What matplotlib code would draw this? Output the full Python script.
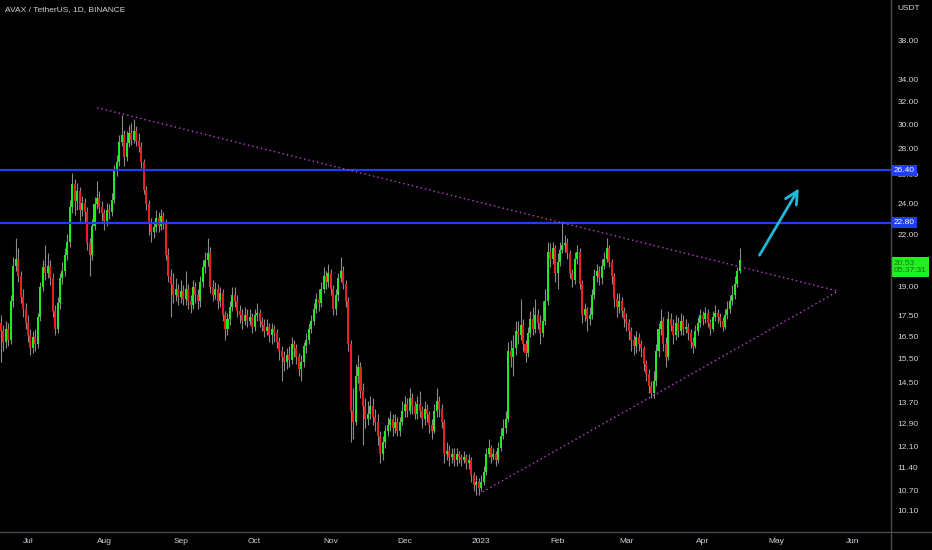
import datetime as dt
import matplotlib
matplotlib.use("Agg")
import matplotlib.pyplot as plt
import matplotlib.dates as mdates
from matplotlib.lines import Line2D

plt.rcParams['font.family'] = ['Liberation Sans', 'DejaVu Sans']

# --- données (AVAX / USDT, 1D) ---
first_day = dt.date(2022, 6, 20)
first_open = 17.2

closes = [
    16.8, 16.3, 16.9, 16.4, 18.3, 20.2, 20.6, 19.6, 18.5, 17.9,
    17.2, 16.6, 16.0, 16.5, 16.2, 17.5, 19.0, 20.1, 19.8, 20.2,
    19.5, 17.8, 16.9, 18.2, 19.5, 19.9, 20.8, 21.6, 23.8, 25.4,
    24.2, 24.9, 23.6, 24.1, 23.5, 21.5, 20.8, 22.6, 24.0, 24.4,
    23.8, 23.4, 22.9, 23.6, 23.5, 24.3, 26.4, 27.0, 28.6, 29.2,
    27.4, 28.5, 29.3, 28.8, 29.5, 28.7, 28.2, 27.0, 25.0, 24.0,
    22.8, 22.2, 22.5, 23.1, 22.6, 23.2, 22.7, 20.8, 19.6, 19.2,
    18.6, 18.9, 18.5, 18.8, 18.4, 18.9, 18.3, 18.1, 19.0, 18.6,
    18.3, 19.3, 20.1, 20.5, 20.9, 19.0, 18.6, 18.9, 18.3, 18.7,
    17.6, 16.9, 17.4, 18.0, 18.6, 18.3, 17.8, 17.6, 17.3, 17.6,
    17.3, 17.5, 17.0, 17.6, 17.7, 17.3, 17.1, 16.8, 17.0, 16.6,
    16.9, 16.7, 16.3, 15.9, 15.6, 15.4, 15.7, 15.5, 16.2, 16.0,
    15.6, 15.1, 15.4, 16.1, 16.4, 16.9, 17.3, 17.9, 18.4, 18.2,
    18.9, 19.6, 19.3, 19.8, 18.9, 17.9, 18.6, 19.5, 19.9, 19.2,
    18.3, 16.2, 13.4, 13.0, 14.8, 15.2, 14.2, 13.6, 13.1, 13.3,
    13.6, 13.2, 13.0, 12.5, 11.9, 12.3, 12.7, 12.9, 13.1, 12.8,
    13.0, 12.7, 13.0, 13.4, 13.7, 13.4, 13.9, 13.6, 13.3, 13.7,
    13.4, 13.1, 13.5, 13.3, 12.9, 12.7, 13.4, 13.8, 13.5, 13.0,
    11.9, 12.0, 11.8, 11.9, 11.7, 11.9, 11.8, 11.7, 11.8, 11.6,
    11.7, 11.2, 10.9, 11.0, 10.8, 11.0, 11.3, 11.9, 12.1, 11.8,
    11.9, 11.7, 12.1, 12.5, 12.8, 13.1, 15.9, 15.6, 16.0, 16.8,
    16.6, 17.1, 16.2, 15.8, 16.7, 17.4, 16.9, 17.6, 17.2, 16.7,
    17.3, 18.3, 21.0, 20.6, 21.2, 19.8, 20.4, 21.1, 21.4, 21.5,
    20.9, 19.8, 19.4, 20.6, 21.0, 19.2, 17.6, 17.9, 17.4, 17.6,
    18.6, 19.6, 19.9, 19.5, 20.2, 20.6, 21.2, 20.4, 19.6, 18.4,
    18.0, 18.3, 17.8, 17.4, 17.2, 16.8, 16.4, 16.1, 16.5, 16.2,
    16.0, 15.3, 14.9, 14.4, 14.1, 14.6, 15.9, 16.9, 17.3, 16.2,
    15.6, 17.4, 17.1, 16.6, 17.2, 16.8, 17.3, 16.9, 17.0, 16.7,
    16.3, 16.1, 16.8, 17.2, 17.6, 17.4, 17.7, 17.2, 16.9, 17.5,
    17.7, 17.5, 17.3, 17.0, 17.6, 17.9, 18.3, 18.6, 19.2, 19.9,
    20.53,
]

highs = [
    17.6, 17.1, 17.3, 17.2, 18.6, 20.7, 21.8, 21.2, 19.9, 18.9,
    18.2, 17.6, 16.9, 16.8, 16.9, 17.7, 19.3, 20.5, 21.4, 20.9,
    20.5, 19.8, 18.1, 18.5, 19.8, 20.4, 21.2, 22.1, 24.3, 26.2,
    25.8, 25.5, 25.2, 24.6, 24.4, 23.8, 21.8, 23.0, 24.5, 25.6,
    24.9, 24.2, 23.7, 24.1, 24.0, 24.8, 26.8, 27.6, 29.2, 30.9,
    29.6, 29.5, 30.0, 30.2, 30.5, 29.9, 29.3, 28.6, 27.3, 25.3,
    24.3, 23.1, 22.9, 23.6, 23.5, 23.7, 23.5, 23.0, 21.2, 20.0,
    19.8, 19.5, 19.2, 19.4, 19.1, 19.9, 19.2, 18.6, 19.4, 19.3,
    18.9, 19.6, 20.5, 21.0, 21.8, 21.3, 19.4, 19.3, 19.2, 19.0,
    18.9, 17.8, 17.7, 18.3, 19.0, 19.0, 18.6, 18.1, 17.9, 18.0,
    17.9, 17.9, 17.7, 17.9, 18.2, 17.9, 17.5, 17.4, 17.4, 17.2,
    17.2, 17.1, 16.9, 16.5, 16.1, 15.9, 16.0, 16.1, 16.5, 16.4,
    16.2, 15.8, 15.7, 16.3, 16.7, 17.2, 17.6, 18.2, 18.7, 18.9,
    19.3, 20.1, 19.9, 20.3, 20.0, 19.1, 18.9, 19.8, 20.7, 20.2,
    19.4, 18.5, 16.4, 14.3, 15.3, 15.7, 15.4, 14.5, 13.9, 13.8,
    14.0, 13.9, 13.5, 13.3, 12.7, 12.5, 12.9, 13.2, 13.4, 13.3,
    13.3, 13.2, 13.2, 13.8, 14.0, 13.9, 14.3, 14.1, 13.8, 14.0,
    14.2, 13.6, 13.8, 13.7, 13.4, 13.1, 13.7, 14.3, 14.0, 13.7,
    13.1, 12.3, 12.2, 12.1, 12.1, 12.1, 12.0, 11.9, 12.0, 11.9,
    11.9, 11.8, 11.3, 11.2, 11.1, 11.2, 11.5, 12.1, 12.4, 12.2,
    12.1, 12.0, 12.3, 12.8, 13.1, 13.4, 16.3, 16.4, 16.6, 17.3,
    17.3, 18.4, 17.4, 16.4, 17.0, 17.8, 18.0, 18.4, 17.9, 17.6,
    18.3, 18.9, 21.6, 21.5, 21.6, 21.4, 20.9, 21.6, 22.9, 22.0,
    21.8, 21.1, 20.0, 21.0, 21.4, 21.2, 19.4, 18.2, 18.0, 18.0,
    18.9, 20.0, 20.3, 20.2, 20.6, 21.0, 21.8, 21.4, 20.6, 19.8,
    18.7, 18.7, 18.5, 18.0, 17.7, 17.4, 17.0, 16.6, 16.8, 16.7,
    16.4, 16.1, 15.5, 15.1, 14.6, 15.0, 16.2, 17.2, 17.9, 17.5,
    16.5, 17.8, 17.7, 17.4, 17.6, 17.5, 17.7, 17.6, 17.4, 17.2,
    16.9, 16.5, 17.1, 17.5, 17.9, 17.8, 18.0, 17.9, 17.4, 17.8,
    18.1, 17.9, 17.7, 17.5, 17.9, 18.3, 18.6, 19.1, 19.6, 20.1,
    21.2,
]

lows = [
    15.4, 15.9, 16.0, 16.1, 16.2, 18.0, 19.9, 19.3, 18.2, 17.5,
    16.9, 16.3, 15.7, 15.8, 15.9, 16.0, 17.3, 18.8, 19.4, 19.5,
    19.1, 17.5, 16.6, 16.7, 17.9, 19.2, 19.6, 20.5, 21.3, 23.4,
    23.3, 23.6, 22.9, 23.2, 22.8, 21.1, 19.6, 20.5, 22.3, 23.7,
    23.4, 22.9, 22.3, 22.6, 23.0, 23.2, 24.1, 26.0, 26.7, 28.3,
    26.7, 27.1, 28.2, 28.4, 28.5, 28.3, 27.8, 26.6, 24.7, 23.6,
    22.0, 21.6, 21.8, 22.2, 22.2, 22.3, 22.4, 20.5, 19.3, 17.5,
    18.2, 18.3, 18.1, 18.2, 18.1, 18.1, 17.9, 17.7, 17.9, 18.2,
    17.9, 18.0, 19.0, 19.8, 20.2, 18.7, 18.3, 18.4, 17.9, 18.0,
    17.3, 16.4, 16.6, 17.1, 17.8, 18.0, 17.5, 17.2, 16.9, 17.1,
    17.0, 17.1, 16.7, 16.8, 17.3, 17.0, 16.8, 16.5, 16.6, 16.3,
    16.2, 16.3, 16.0, 15.5, 14.6, 15.0, 15.1, 15.2, 15.3, 15.6,
    15.3, 14.8, 14.6, 15.2, 15.8, 16.2, 16.7, 17.1, 17.7, 17.8,
    18.0, 18.7, 18.9, 19.0, 18.6, 17.6, 17.6, 18.3, 19.3, 18.9,
    18.0, 15.9, 12.3, 12.4, 12.9, 14.5, 13.9, 12.2, 12.8, 12.9,
    13.1, 12.9, 12.7, 12.2, 11.6, 11.7, 12.1, 12.5, 12.7, 12.5,
    12.6, 12.5, 12.5, 12.9, 13.2, 13.2, 13.3, 13.3, 13.1, 13.1,
    13.2, 12.8, 12.9, 13.0, 12.6, 12.4, 12.6, 13.2, 13.2, 12.8,
    11.6, 11.7, 11.5, 11.6, 11.5, 11.5, 11.6, 11.5, 11.6, 11.4,
    11.4, 11.0, 10.7, 10.6, 10.6, 10.7, 10.9, 11.2, 11.8, 11.6,
    11.7, 11.5, 11.6, 12.0, 12.4, 12.6, 13.0, 15.2, 14.8, 15.7,
    16.2, 16.4, 15.9, 15.4, 15.6, 16.5, 16.6, 16.7, 16.9, 16.2,
    16.5, 17.1, 18.1, 20.1, 20.3, 19.3, 18.9, 20.2, 20.9, 21.0,
    20.6, 19.5, 19.0, 19.2, 20.3, 18.9, 17.2, 17.3, 16.8, 17.1,
    17.4, 18.4, 19.3, 19.1, 19.2, 20.0, 20.4, 20.1, 19.2, 18.0,
    17.5, 17.7, 17.5, 17.0, 16.8, 16.4, 15.9, 15.7, 15.8, 15.9,
    15.6, 15.0, 14.6, 14.1, 13.9, 13.9, 14.4, 15.6, 16.6, 15.9,
    15.2, 15.5, 16.8, 16.2, 16.4, 16.5, 16.6, 16.6, 16.7, 16.4,
    16.0, 15.8, 16.0, 16.6, 17.0, 17.1, 17.2, 17.0, 16.6, 16.8,
    17.3, 17.2, 17.0, 16.8, 16.9, 17.4, 17.7, 18.1, 18.4, 19.0,
    19.8,
]

# niveaux et tracés de l'analyste
levels = [26.40, 22.80]
upper_trend_dates = [dt.date(2022, 7, 29), dt.date(2023, 5, 26)]
upper_trend_prices = [31.5, 18.8]
lower_trend_dates = [dt.date(2022, 12, 31), dt.date(2023, 5, 26)]
lower_trend_prices = [10.62, 18.8]
arrow_dates = [dt.date(2023, 4, 24), dt.date(2023, 5, 10)]
arrow_prices = [20.8, 25.1]

price_ticks = [38, 34, 32, 30, 28, 26, 24, 22, 19, 17.5, 16.5, 15.5, 14.5,
               13.7, 12.9, 12.1, 11.4, 10.7, 10.1]
month_ticks = [dt.date(2022, m, 1) for m in range(7, 13)] + \
              [dt.date(2023, m, 1) for m in range(1, 7)]
month_labels = ['Jul', 'Aug', 'Sep', 'Oct', 'Nov', 'Dec', '2023',
                'Feb', 'Mar', 'Apr', 'May', 'Jun']
last_price = 20.53
countdown = '05:37:31'

# --- couleurs ---
BG = '#000000'
TXT = '#d1d4dc'
UP = '#22ea22'
DOWN = '#ea2020'
WICK = '#8a8a8a'
BLUE = '#1f3ff2'
PINK = '#c040d8'
CYAN = '#1fb8d8'

opens = [first_open] + closes[:-1]
n = len(closes)
x = [mdates.date2num(first_day + dt.timedelta(days=i)) for i in range(n)]

W, H = 932, 550
fig = plt.figure(figsize=(W / 100, H / 100), dpi=100, facecolor=BG)
ax = fig.add_axes([0, 18 / H, 891 / W, 532 / H], facecolor=BG)

ax.set_yscale('log')
ax.set_ylim(9.545, 42.65)
x0 = mdates.date2num(dt.date(2022, 7, 1))
ax.set_xlim(x0 - 11.37, x0 + 350.4)

# mèches
ax.vlines(x, lows, highs, color=WICK, linewidth=0.8, zorder=2)
# corps
bottoms = [min(o, c) for o, c in zip(opens, closes)]
heights = [max(abs(c - o), 0.04) for o, c in zip(opens, closes)]
colors = [UP if c >= o else DOWN for o, c in zip(opens, closes)]
ax.bar(x, heights, bottom=bottoms, width=0.82, color=colors, linewidth=0, zorder=3)

# lignes horizontales bleues
for lv in levels:
    ax.axhline(lv, color=BLUE, linewidth=1.6, zorder=4)

# triangle en pointillés
ax.plot(mdates.date2num(upper_trend_dates), upper_trend_prices, color=PINK,
        linewidth=1.0, linestyle=(0, (1, 2.2)), zorder=4)
ax.plot(mdates.date2num(lower_trend_dates), lower_trend_prices, color=PINK,
        linewidth=1.0, linestyle=(0, (1, 2.2)), zorder=4)

# flèche
ax.annotate('', xy=(mdates.date2num(arrow_dates[1]), arrow_prices[1]),
            xytext=(mdates.date2num(arrow_dates[0]), arrow_prices[0]),
            arrowprops=dict(arrowstyle='->,head_length=0.9,head_width=0.45',
                            color=CYAN, linewidth=2.0, shrinkA=0, shrinkB=0),
            zorder=5)

ax.set_xticks([])
ax.set_yticks([])
ax.minorticks_off()
for s in ax.spines.values():
    s.set_visible(False)

# séparateurs des échelles
fig.add_artist(Line2D([891 / W, 891 / W], [0, 1], color='#4a4a4a', linewidth=1))
fig.add_artist(Line2D([0, 1], [18 / H, 18 / H], color='#4a4a4a', linewidth=1))

ytr = ax.get_yaxis_transform()
for v in price_ticks:
    ax.text(1.007, v, f'{v:.2f}', transform=ytr, color=TXT, fontsize=6,
            va='center', ha='left', clip_on=False)

xtr = ax.get_xaxis_transform()
for d, lab in zip(month_ticks, month_labels):
    ax.text(mdates.date2num(d), -0.017, lab, transform=xtr, color=TXT,
            fontsize=6, va='center', ha='center', clip_on=False)

# étiquettes de prix
for lv in levels:
    ax.text(1.003, lv, f'{lv:.2f}', transform=ytr, color='white', fontsize=6,
            va='center', ha='left', clip_on=False, zorder=10,
            bbox=dict(boxstyle='square,pad=0.25', fc=BLUE, ec='none'))
ax.text(1.003, last_price, f'{last_price:.2f}\n{countdown}', transform=ytr,
        color='#0d7a0d', fontsize=6, va='top', ha='left', clip_on=False,
        zorder=10, linespacing=1.05,
        bbox=dict(boxstyle='square,pad=0.3', fc='#22ee22', ec='none'))

fig.text(897 / W, 1 - 8 / H, 'USDT', color=TXT, fontsize=6, va='center', ha='left')
fig.text(5 / W, 1 - 10 / H, 'AVAX / TetherUS, 1D, BINANCE', color=TXT,
         fontsize=6, va='center', ha='left')

fig.savefig('out.png', dpi=100, facecolor=BG)
